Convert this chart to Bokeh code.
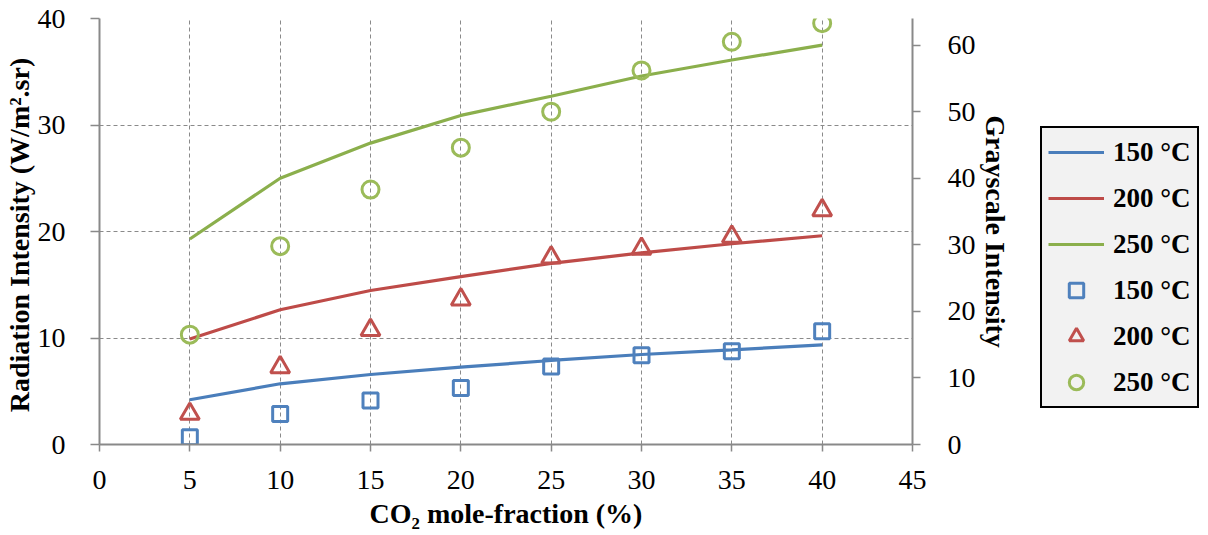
from bokeh.plotting import figure
from bokeh.layouts import row
from bokeh.models import Range1d, LinearAxis, Legend, LegendItem, FixedTicker
from bokeh.embed import file_html
from bokeh.resources import INLINE

# ---- data ----
co2 = [5, 10, 15, 20, 25, 30, 35, 40]
series_labels = ["150 °C", "200 °C", "250 °C"]
# Radiation intensity (left axis, model lines)
rad_150 = [4.2, 5.7, 6.57, 7.26, 7.89, 8.45, 8.89, 9.36]
rad_200 = [9.9, 12.65, 14.46, 15.77, 17.0, 18.0, 18.85, 19.6]
rad_250 = [19.3, 25.0, 28.3, 30.9, 32.7, 34.6, 36.1, 37.5]
# Grayscale intensity (right axis, measured markers)
gray_150 = [1.1, 4.6, 6.6, 8.5, 11.7, 13.4, 14.0, 17.0]
gray_200 = [4.6, 11.6, 17.2, 21.8, 28.1, 29.4, 31.2, 35.2]
gray_250 = [16.5, 29.8, 38.3, 44.6, 50.0, 56.2, 60.5, 63.3]

x_ticks = [0, 5, 10, 15, 20, 25, 30, 35, 40, 45]
left_ticks = [0, 10, 20, 30, 40]
right_ticks = [0, 10, 20, 30, 40, 50, 60]

line_colors = ["#4A7EBB", "#BE4B48", "#8BAF4C"]
marker_colors = ["#4F81BD", "#C0504D", "#9BBB59"]
markers = ["square", "triangle", "circle"]
marker_sizes = [15, 19, 17]

FONT = "Liberation Serif"
AXC = "#898989"

rad_series = [rad_150, rad_200, rad_250]
gray_series = [gray_150, gray_200, gray_250]

p = figure(frame_width=813, frame_height=426, output_backend="svg", toolbar_location=None,
           x_range=Range1d(0, 45), y_range=Range1d(0, 40),
           min_border_left=97, min_border_right=110, min_border_top=18,
           min_border_bottom=91)
p.outline_line_color = None
p.background_fill_color = "white"
p.border_fill_color = "white"
p.extra_y_ranges = {"gray": Range1d(0, 64)}

# grids
for g in (p.xgrid, p.ygrid):
    g.grid_line_color = "#8a8a8a"
    g.grid_line_dash = "4 3"
    g.grid_line_width = 1
p.xgrid.ticker = FixedTicker(ticks=x_ticks)
p.ygrid.ticker = FixedTicker(ticks=left_ticks)

def style_axis(ax, tick_out):
    ax.axis_line_color = AXC
    ax.axis_line_width = 2
    ax.major_tick_line_color = AXC
    ax.major_tick_line_width = 1.5
    ax.major_tick_out = tick_out
    ax.major_tick_in = 0
    ax.minor_tick_line_color = None
    ax.major_label_text_font = FONT
    ax.major_label_text_font_size = "28px"
    ax.major_label_text_color = "black"
    ax.axis_label_text_font = FONT
    ax.axis_label_text_font_size = "28px"
    ax.axis_label_text_font_style = "bold"
    ax.axis_label_text_color = "black"

xa = p.xaxis[0]
xa.ticker = FixedTicker(ticks=x_ticks)
xa.axis_label = "CO₂ mole-fraction (%)"
style_axis(xa, 7)
xa.major_label_standoff = 19
xa.axis_label_standoff = 6

ya = p.yaxis[0]
ya.ticker = FixedTicker(ticks=left_ticks)
ya.axis_label = "Radiation Intensity  (W/m².sr)"
style_axis(ya, 9)
ya.major_label_standoff = 25
ya.axis_label_standoff = 0

ra = LinearAxis(y_range_name="gray", ticker=FixedTicker(ticks=right_ticks),
                axis_label="Grayscale Intensity")
style_axis(ra, 8)
ra.major_label_standoff = 27
ra.axis_label_standoff = 1
p.add_layout(ra, "right")

for ys, c in zip(rad_series, line_colors):
    p.line(co2, ys, line_color=c, line_width=3.2)

for ys, m, s, c in zip(gray_series, markers, marker_sizes, marker_colors):
    p.scatter(co2, ys, y_range_name="gray", marker=m, size=s,
              line_color=c, line_width=3, fill_color=None)

# ---- legend panel (separate figure so it is not clipped by the plot frame) ----
# its renderers reuse the same data but the ranges keep them out of view
lp = figure(width=188, height=535, output_backend="svg", toolbar_location=None,
            x_range=Range1d(-100, -99), y_range=Range1d(-100, -99),
            x_axis_location=None, y_axis_location=None,
            min_border_left=0, min_border_right=0, min_border_top=0, min_border_bottom=0)
lp.grid.visible = False
lp.outline_line_color = None
lp.background_fill_color = "white"
lp.border_fill_color = "white"

items = []
for lab, ys, c in zip(series_labels, rad_series, line_colors):
    r = lp.line(co2, ys, line_color=c, line_width=3.2)
    items.append(LegendItem(label=lab, renderers=[r]))
for lab, ys, m, c in zip(series_labels, gray_series, markers, marker_colors):
    r = lp.scatter(co2, ys, marker=m, size=15, line_color=c, line_width=3, fill_color=None)
    items.append(LegendItem(label=lab, renderers=[r]))

legend = Legend(items=items, location=(18, 36))
legend.border_line_color = "black"
legend.border_line_width = 2
legend.border_line_alpha = 1
legend.background_fill_color = "#f2f2f2"
legend.background_fill_alpha = 1
legend.label_text_font = FONT
legend.label_text_font_size = "27px"
legend.label_text_font_style = "bold"
legend.label_text_color = "black"
legend.glyph_width = 56
legend.glyph_height = 36
legend.label_height = 20
legend.spacing = 10
legend.padding = 6
legend.margin = 0
legend.label_standoff = 9
lp.add_layout(legend, "center")

layout = row(p, lp)
open("out.html", "w").write(file_html(layout, INLINE))
